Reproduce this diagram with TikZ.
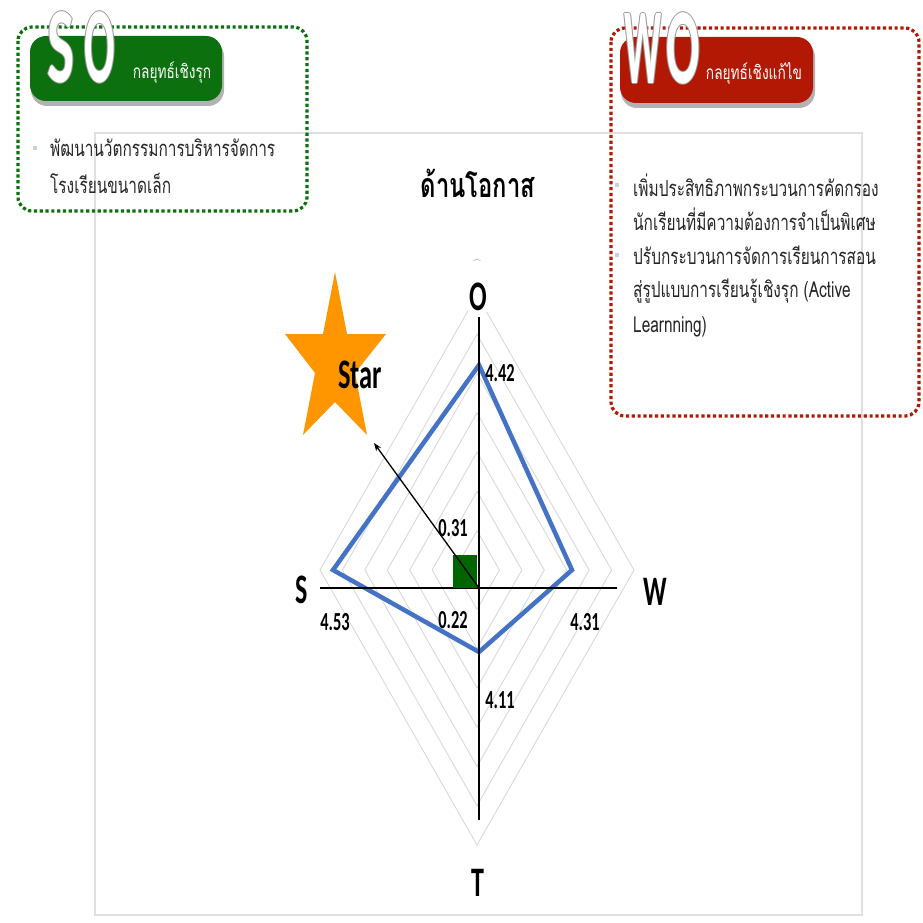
\documentclass[tikz,border=0pt]{standalone}
\usepackage{fontspec}
\usepackage{graphicx}
\usetikzlibrary{positioning,arrows.meta}
\newfontfamily\thaifont[Script=Thai]{Loma}
\newfontfamily\chartfont{Carlito}
\newcommand{\squeeze}[2]{\scalebox{#1}[1]{#2}}
\definecolor{soGreen}{RGB}{12,112,14}
\definecolor{woRed}{RGB}{178,24,4}
\definecolor{lineBlue}{RGB}{68,114,196}
\definecolor{starOrange}{RGB}{255,150,0}
\definecolor{bulletGrey}{RGB}{200,208,222}
\definecolor{coreGreen}{RGB}{0,100,0}
\tikzset{
  gridRing/.style={draw=black!15, line width=0.9pt},
  axisLine/.style={draw=black, line width=1.4pt},
  scorePoly/.style={draw=lineBlue, line width=4.5pt, line join=miter},
  dotFrame/.style={rounded corners=14pt, line width=3.2pt, dash pattern=on 3.2pt off 2.6pt},
  banner/.style={rounded corners=16pt},
  axisName/.style={font=\chartfont\bfseries\fontsize{42}{42}\selectfont, inner sep=1pt},
  scoreLabel/.style={font=\chartfont\bfseries\fontsize{26}{26}\selectfont, inner sep=0pt},
  bigLetter/.style={font=\chartfont\bfseries\fontsize{108}{108}\selectfont, inner sep=0pt},
  tagText/.style={font=\thaifont\fontsize{19}{19}\selectfont, text=white, inner sep=0pt},
  thaiBody/.style={font=\thaifont\fontsize{22}{22}\selectfont, anchor=west, inner sep=0pt, text=black!85},
  bulletMark/.style={fill=bulletGrey, minimum size=4pt, inner sep=0pt}
}

\begin{document}
\begin{tikzpicture}[x=1pt,y=-1pt]
  \useasboundingbox (0,0) rectangle (922,923);
  \fill[white] (0,0) rectangle (922,923);

  % chart area
  \draw[black!12, line width=1.3pt] (95,133) rectangle (862,915);
  \foreach \k in {1,...,7}{
    \draw[gridRing] (477,{570-275*\k/7}) -- ({477+157*\k/7},570) -- (477,{570+275*\k/7}) -- ({477-157*\k/7},570) -- cycle;
  }
  \node[font=\thaifont\bfseries\fontsize{34}{34}\selectfont] (title) at (478,183) {\squeeze{0.7}{ด้านโอกาส}};

  \coordinate (axL) at (320,588);
  \coordinate (axR) at (617,588);
  \coordinate (axTop) at (479,317);
  \coordinate (axBot) at (479,820);
  \coordinate (centre) at (479,588);
  \coordinate (starTip) at (374,443);

  \draw[scorePoly] (479,365) -- (572,570) -- (479,652) -- (333,570) -- cycle;
  \draw[axisLine] (axL) -- (axR);
  \draw[black, line width=1.1pt] (axTop) -- (axBot);
  \node[fill=coreGreen, minimum width=24pt, minimum height=33pt, anchor=south east, inner sep=0pt] (core) at (477,588) {};

  \node[axisName, fill=white] (oName) at (478,297) {\squeeze{0.62}{O}};
  \node[text=black!40, font=\fontsize{14}{14}\selectfont] (oMark) at (477,264) {\^{}};
  \node[axisName] (sName) at (302,590) {\squeeze{0.62}{S}};
  \node[axisName] (wName) at (655,592) {\squeeze{0.62}{W}};
  \node[axisName] (tName) at (478,883) {\squeeze{0.62}{T}};

  \node[scoreLabel] (vO) at (500,373) {\squeeze{0.63}{4.42}};
  \node[scoreLabel] (vCoreA) at (453,528) {\squeeze{0.63}{0.31}};
  \node[scoreLabel] (vCoreB) at (453,620) {\squeeze{0.63}{0.22}};
  \node[scoreLabel] (vS) at (335,622) {\squeeze{0.63}{4.53}};
  \node[scoreLabel] (vW) at (585,622) {\squeeze{0.63}{4.31}};
  \node[scoreLabel] (vT) at (500,700) {\squeeze{0.63}{4.11}};

  % star quadrant
  \fill[starOrange] (335,272) -- (347,334) -- (386,334) -- (355,373) -- (367,435) -- (335,402)
    -- (303,435) -- (315,373) -- (285,334) -- (323,334) -- cycle;
  \node[axisName] (starName) at (360,375) {\squeeze{0.63}{Star}};
  \draw[-{Stealth[length=8pt,width=6pt]}, line width=1.3pt] (centre) -- (starTip);

  % SO box
  \draw[soGreen, dotFrame] (18,27) rectangle (307,211);
  \fill[black!30, banner] (31,40) rectangle (224,106);
  \fill[soGreen, banner] (30,36) rectangle (222,101);
  \node[tagText] (soTag) at (172,73) {\squeeze{0.72}{กลยุทธ์เชิงรุก}};
  \node[bulletMark] (soDot) at (35,148) {};
  \node[thaiBody] (soLineA) at (50,148) {\squeeze{0.7}{พัฒนานวัตกรรมการบริหารจัดการ}};
  \node[thaiBody] (soLineB) at (50,183) {\squeeze{0.7}{โรงเรียนขนาดเล็ก}};

  % WO box
  \draw[woRed, dotFrame] (611,28) rectangle (919,416);
  \fill[black!30, banner] (621,41) rectangle (815,108);
  \fill[woRed, banner] (620,37) rectangle (813,103);
  \node[tagText] (woTag) at (754,73) {\squeeze{0.72}{กลยุทธ์เชิงแก้ไข}};
  \node[bulletMark] (woDotA) at (617,185) {};
  \node[bulletMark] (woDotB) at (617,255) {};
  \node[thaiBody] (woLineA) at (633,185) {\squeeze{0.7}{เพิ่มประสิทธิภาพกระบวนการคัดกรอง}};
  \node[thaiBody] (woLineB) at (633,219) {\squeeze{0.7}{นักเรียนที่มีความต้องการจำเป็นพิเศษ}};
  \node[thaiBody] (woLineC) at (633,255) {\squeeze{0.7}{ปรับกระบวนการจัดการเรียนการสอน}};
  \node[thaiBody] (woLineD) at (633,291) {\squeeze{0.7}{สู่รูปแบบการเรียนรู้เชิงรุก (Active}};
  \node[thaiBody] (woLineE) at (633,327) {\squeeze{0.7}{Learnning)}};

  % big letters
  \foreach \bigch/\px/\py/\sx in {S/61/47/0.53, O/100/47/0.42, W/643/48/0.38, O/683/48/0.46}{
    \foreach \dx/\dy in {-1/0, 1/0, 0/-1, 0/1}
      \node[bigLetter, text=black!40] at (\px+\dx,\py+\dy) {\squeeze{\sx}{\bigch}};
    \node[bigLetter, text=white] (big\bigch\px) at (\px,\py) {\squeeze{\sx}{\bigch}};
  }
\end{tikzpicture}
\end{document}
